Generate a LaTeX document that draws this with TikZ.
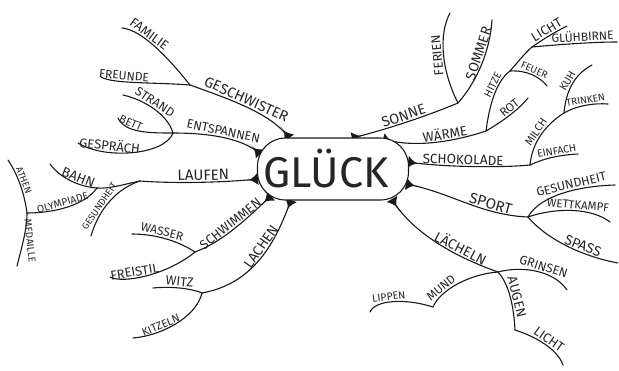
\documentclass[tikz,border=0pt]{standalone}
\usepackage{fontspec}
\setmainfont{Fira Sans}
\usetikzlibrary{calc}
\tikzset{
  br/.style={line width=1.1pt, line cap=round, draw=black!90},
  lab/.style={sloped, above, inner sep=1.2pt, text=black!85, font=\fontsize{#1}{#1}\selectfont},
  lab/.default=11,
  fixlab/.style={inner sep=0pt, text=black!85, font=\fontsize{#1}{#1}\selectfont},
}
\newcommand\flare[2]{\fill[black!90] ($(#1)!6pt!90:(#2)$) .. controls ($(#1)!7pt!(#2)$) .. ($(#1)!15pt!(#2)$) .. controls ($(#1)!7pt!(#2)$) .. ($(#1)!6pt!-90:(#2)$) -- cycle;}
\begin{document}
\begin{tikzpicture}[x=1pt,y=-1pt]
\useasboundingbox (0,0) rectangle (619,370);
% attach points on the centre shape
\coordinate (aGe) at (289,138);
\coordinate (aEn) at (260,154);
\coordinate (aLa) at (258,179);
\coordinate (aSc) at (271,196);
\coordinate (aLc) at (291,200);
\coordinate (aSo) at (352,138);
\coordinate (aWa) at (383,139);
\coordinate (aSk) at (408,162);
\coordinate (aSp) at (406,184);
\coordinate (aLe) at (392,199);
% junctions and ends
\coordinate (jGe) at (190,85);
\coordinate (eFa) at (122,28);
\coordinate (eFr) at (100,76);
\coordinate (jEn) at (173,133);
\coordinate (eSt) at (123,95);
\coordinate (eBe) at (118,118);
\coordinate (eGs) at (78,143);
\coordinate (jLa) at (140,181);
\coordinate (jBa) at (97,188);
\coordinate (eBa) at (50,164);
\coordinate (jOl) at (27,213);
\coordinate (eAt) at (8,160);
\coordinate (eMe) at (17,266);
\coordinate (eGl) at (91,236);
\coordinate (jSc) at (195,252);
\coordinate (eWa) at (132,234);
\coordinate (eFs) at (110,277);
\coordinate (jLc) at (202,293);
\coordinate (eWi) at (153,288);
\coordinate (eKi) at (133,338);
\coordinate (jSo) at (458,103);
\coordinate (eFe) at (450,13);
\coordinate (eSm) at (492,20);
\coordinate (jWa) at (486,131);
\coordinate (jHi) at (510,71);
\coordinate (jLi) at (532,47);
\coordinate (eFu) at (547,86);
\coordinate (eLi) at (567,26);
\coordinate (eGb) at (617,42);
\coordinate (eRo) at (528,98);
\coordinate (jSk) at (530,165);
\coordinate (jMi) at (564,113);
\coordinate (eTr) at (608,104);
\coordinate (eKu) at (592,65);
\coordinate (eEi) at (578,154);
\coordinate (jSp) at (528,217);
\coordinate (eGr) at (615,185);
\coordinate (eWe) at (610,222);
\coordinate (eSa) at (618,263);
\coordinate (jLe) at (498,272);
\coordinate (eGn) at (567,290);
\coordinate (jMu) at (433,307);
\coordinate (eLp) at (370,312);
\coordinate (jAu) at (515,330);
\coordinate (eL2) at (563,365);

% ---- left: Geschwister
\draw[br] (jGe) .. controls (232,100) and (272,114) .. (aGe) node[lab=14.5,pos=0.45] (tGe) {GESCHWISTER};
\draw[br] (eFa) .. controls (143,30) and (170,60) .. (jGe) node[lab=13,pos=0.35] (tFa) {FAMILIE};
\draw[br] (eFr) .. controls (108,84) and (150,82) .. (jGe) node[lab=12,pos=0.4] (tFr) {FREUNDE};
% Entspannen
\draw[br] (jEn) .. controls (215,133) and (245,140) .. (aEn) node[lab=12.5,pos=0.45] (tEn) {ENTSPANNEN};
\draw[br] (eSt) .. controls (145,100) and (168,115) .. (jEn) node[lab=12.5,pos=0.45] (tSt) {STRAND};
\draw[br] (eBe) .. controls (125,133) and (150,133) .. (jEn) node[lab=11,pos=0.3] (tBe) {BETT};
\draw[br] (eGs) .. controls (105,160) and (165,155) .. (jEn) node[lab=13,pos=0.3] (tGs) {GESPRÄCH};
% Laufen
\draw[br] (jLa) .. controls (180,184) and (230,182) .. (aLa) node[lab=15,pos=0.5] (tLa) {LAUFEN};
\draw[br] (jLa) .. controls (125,184) and (110,189) .. (jBa);
\draw[br] (eBa) .. controls (60,178) and (80,187) .. (jBa) node[lab=13.5,pos=0.6] (tBa) {BAHN};
\draw[br] (jOl) .. controls (55,213) and (85,205) .. (jBa) node[lab=10.5,pos=0.45] (tOl) {OLYMPIADE};
\draw[br] (eAt) .. controls (20,178) and (25,198) .. (jOl) node[lab=9.5,pos=0.4] (tAt) {ATHEN};
\draw[br] (jOl) .. controls (27,230) and (21,250) .. (eMe);
\node[fixlab=10, rotate=-84] (tMe) at (30,241) {MEDAILLE};
\draw[br] (eGl) .. controls (99,208) and (118,188) .. (jLa) node[lab=9.5,pos=0.36] (tGl) {GESUNDHEIT};
% Schwimmen
\draw[br] (jSc) .. controls (227,240) and (253,212) .. (aSc) node[lab=13,pos=0.45] (tSc) {SCHWIMMEN};
\draw[br] (eWa) .. controls (157,234) and (180,242) .. (jSc) node[lab=12,pos=0.4] (tWa) {WASSER};
\draw[br] (eFs) .. controls (123,284) and (167,275) .. (jSc) node[lab=13,pos=0.38] (tFs) {FREISTIL};
% Lachen
\draw[br] (jLc) .. controls (258,283) and (278,235) .. (aLc) node[lab=14,pos=0.55] (tLc) {LACHEN};
\draw[br] (eWi) .. controls (173,286) and (193,289) .. (jLc) node[lab=13,pos=0.45] (tWi) {WITZ};
\draw[br] (eKi) .. controls (160,336) and (196,318) .. (jLc) node[lab=11,pos=0.35] (tKi) {KITZELN};

% ---- right: Sonne
\draw[br] (aSo) .. controls (385,130) and (427,116) .. (jSo) node[lab=14.5,pos=0.5] (tSo) {SONNE};
\draw[br] (jSo) .. controls (442,72) and (438,35) .. (eFe) node[lab=13,pos=0.5,allow upside down] (tFe) {FERIEN};
\draw[br] (jSo) .. controls (478,80) and (490,50) .. (eSm) node[lab=14,pos=0.6] (tSm) {SOMMER};
% Waerme
\draw[br] (aWa) .. controls (420,150) and (465,138) .. (jWa) node[lab=13.5,pos=0.55] (tWr) {WÄRME};
\draw[br] (jWa) .. controls (490,100) and (498,80) .. (jHi) node[lab=10.5,pos=0.6] (tHi) {HITZE};
\draw[br] (jHi) .. controls (518,62) and (524,54) .. (jLi);
\draw[br] (jHi) .. controls (527,70) and (540,77) .. (eFu) node[lab=10,pos=0.5] (tFu) {FEUER};
\draw[br] (jLi) .. controls (545,38) and (555,32) .. (eLi) node[lab=13,pos=0.5] (tLi) {LICHT};
\draw[br] (jLi) .. controls (565,44) and (595,42) .. (eGb) node[lab=12,pos=0.55] (tGb) {GLÜHBIRNE};
\draw[br] (jWa) .. controls (505,120) and (520,108) .. (eRo) node[lab=12,pos=0.55] (tRo) {ROT};
% Schokolade
\draw[br] (aSk) .. controls (440,167) and (500,168) .. (jSk) node[lab=13.5,pos=0.45] (tSk) {SCHOKOLADE};
\draw[br] (jSk) .. controls (532,143) and (545,125) .. (jMi) node[lab=11,pos=0.5] (tMi) {MILCH};
\draw[br] (jMi) .. controls (578,105) and (595,103) .. (eTr) node[lab=10,pos=0.5] (tTr) {TRINKEN};
\draw[br] (jMi) .. controls (566,90) and (575,74) .. (eKu) node[lab=11,pos=0.5] (tKu) {KUH};
\draw[br] (jSk) .. controls (545,158) and (560,155) .. (eEi) node[lab=10.5,pos=0.6] (tEi) {EINFACH};
% Sport
\draw[br] (aSp) .. controls (450,192) and (480,215) .. (jSp) node[lab=15,pos=0.7] (tSp) {SPORT};
\draw[br] (jSp) .. controls (540,195) and (580,186) .. (eGr) node[lab=12.5,pos=0.6] (tGr) {GESUNDHEIT};
\draw[br] (jSp) .. controls (557,207) and (592,208) .. (eWe) node[lab=11.5,pos=0.55] (tWe) {WETTKAMPF};
\draw[br] (jSp) .. controls (550,243) and (590,258) .. (eSa) node[lab=14,pos=0.6] (tSa) {SPASS};
% Laecheln
\draw[br] (aLe) .. controls (410,230) and (450,255) .. (jLe) node[lab=14,pos=0.7] (tLe) {LÄCHELN};
\draw[br] (jLe) .. controls (525,265) and (555,272) .. (eGn) node[lab=12.5,pos=0.55] (tGn) {GRINSEN};
\draw[br] (jMu) .. controls (440,290) and (470,274) .. (jLe) node[lab=12,pos=0.3] (tMu) {MUND};
\draw[br] (eLp) .. controls (375,300) and (405,298) .. (jMu) node[lab=10.5,pos=0.45] (tLp) {LIPPEN};
\draw[br] (jLe) .. controls (510,285) and (514,310) .. (jAu) node[lab=13.5,pos=0.5] (tAu) {AUGEN};
\draw[br] (jAu) .. controls (537,337) and (558,350) .. (eL2) node[lab=13,pos=0.5] (tL2) {LICHT};

% flares where the branches leave the centre
\flare{aGe}{272,114}
\flare{aEn}{245,140}
\flare{aLa}{230,182}
\flare{aSc}{253,212}
\flare{aLc}{278,235}
\flare{aSo}{385,130}
\flare{aWa}{420,150}
\flare{aSk}{440,167}
\flare{aSp}{450,192}
\flare{aLe}{410,230}

% centre
\node[draw=black!90, line width=1.1pt, fill=white, rounded corners=28pt,
      minimum width=151pt, minimum height=62pt, inner sep=0pt,
      text=black!85, font=\fontsize{43}{43}\selectfont] (gl) at (333,169) {GLÜCK\hspace*{14pt}};
\end{tikzpicture}
\end{document}
